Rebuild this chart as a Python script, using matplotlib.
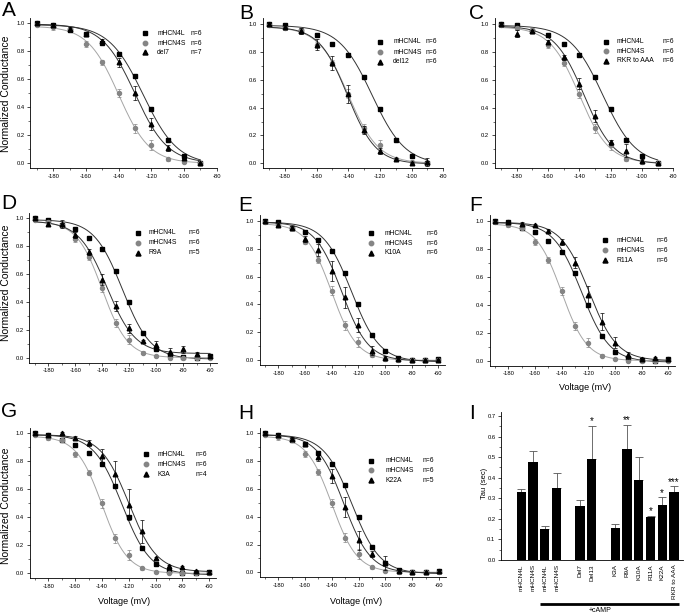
import numpy as np
import matplotlib
matplotlib.use("Agg")
import matplotlib.pyplot as plt
import matplotlib.transforms as mtransforms
from matplotlib.ticker import MultipleLocator, FormatStrFormatter

plt.rcParams['font.family'] = ['Liberation Sans', 'DejaVu Sans']
plt.rcParams['axes.unicode_minus'] = False

W, H = 685, 615

# ---- activation curve data (normalized conductance) ----
volt_short = [-190, -180, -170, -160, -150, -140, -130, -120, -110, -100, -90]
volt_long = [-190, -180, -170, -160, -150, -140, -130, -120, -110, -100, -90, -80, -70, -60]

hcn4l_short = [1.0, 0.99, 0.95, 0.92, 0.86, 0.78, 0.62, 0.39, 0.17, 0.05, 0.0]
hcn4l_short_err = [0.01, 0.01, 0.01, 0.012, 0.01, 0.012, 0.012, 0.01, 0.012, 0.01, 0.005]
hcn4s_short = [0.99, 0.97, 0.96, 0.85, 0.72, 0.50, 0.25, 0.13, 0.03, 0.01, 0.0]
hcn4s_short_err = [0.01, 0.015, 0.01, 0.02, 0.02, 0.03, 0.03, 0.035, 0.01, 0.005, 0.005]

hcn4l_long = [1.0, 0.99, 0.95, 0.92, 0.86, 0.78, 0.625, 0.40, 0.18, 0.065, 0.02, 0.005, 0.0, 0.01]
hcn4l_long_err = [0.01, 0.01, 0.01, 0.012, 0.01, 0.012, 0.012, 0.01, 0.012, 0.01, 0.01, 0.005, 0.005, 0.01]
hcn4s_long = [0.99, 0.97, 0.95, 0.85, 0.72, 0.50, 0.25, 0.13, 0.035, 0.01, 0.0, 0.0, 0.0, 0.0]
hcn4s_long_err = [0.01, 0.015, 0.01, 0.02, 0.02, 0.03, 0.03, 0.035, 0.01, 0.005, 0.005, 0.005, 0.005, 0.005]

del7 = [1.0, 0.99, 0.96, 0.92, 0.87, 0.72, 0.50, 0.28, 0.11, 0.04, 0.0]
del7_err = [0.01, 0.01, 0.01, 0.01, 0.02, 0.03, 0.05, 0.045, 0.02, 0.01, 0.005]
del12 = [1.0, 0.98, 0.95, 0.85, 0.72, 0.50, 0.24, 0.09, 0.03, 0.0, 0.01]
del12_err = [0.01, 0.015, 0.02, 0.04, 0.05, 0.065, 0.03, 0.02, 0.01, 0.01, 0.03]
rkr = [1.0, 0.93, 0.95, 0.87, 0.76, 0.57, 0.34, 0.15, 0.09, 0.02, 0.0]
rkr_err = [0.01, 0.025, 0.01, 0.015, 0.02, 0.04, 0.04, 0.02, 0.045, 0.01, 0.005]
r9a = [1.0, 0.96, 0.96, 0.88, 0.76, 0.56, 0.37, 0.21, 0.12, 0.09, 0.04, 0.06, 0.03, 0.01]
r9a_err = [0.01, 0.015, 0.03, 0.02, 0.02, 0.04, 0.035, 0.03, 0.01, 0.03, 0.03, 0.025, 0.01, 0.01]
k10a = [1.0, 0.97, 0.95, 0.87, 0.79, 0.64, 0.45, 0.25, 0.07, 0.02, 0.01, 0.0, 0.0, 0.005]
k10a_err = [0.01, 0.01, 0.01, 0.02, 0.04, 0.07, 0.075, 0.05, 0.03, 0.01, 0.005, 0.005, 0.005, 0.005]
r11a = [1.0, 0.99, 0.98, 0.97, 0.93, 0.85, 0.70, 0.47, 0.28, 0.13, 0.04, 0.01, 0.02, 0.01]
r11a_err = [0.01, 0.01, 0.01, 0.01, 0.01, 0.02, 0.04, 0.065, 0.06, 0.04, 0.025, 0.01, 0.01, 0.01]
k3a = [1.0, 0.99, 1.0, 0.97, 0.93, 0.84, 0.71, 0.49, 0.30, 0.11, 0.05, 0.045, 0.02, 0.01]
k3a_err = [0.01, 0.01, 0.01, 0.01, 0.02, 0.05, 0.09, 0.11, 0.08, 0.01, 0.01, 0.01, 0.005, 0.005]
k22a = [1.0, 0.99, 0.96, 0.92, 0.83, 0.69, 0.47, 0.23, 0.13, 0.07, 0.01, 0.0, 0.0, 0.01]
k22a_err = [0.01, 0.01, 0.01, 0.01, 0.03, 0.05, 0.07, 0.07, 0.02, 0.05, 0.01, 0.005, 0.005, 0.005]

# Boltzmann fit parameters: (top, bottom, V1/2, slope)
fit_hcn4l = (0.99, -0.01, -125.0, 10.5)
fit_hcn4s = (0.98, 0.0, -140.0, 9.5)
fit_del7 = (0.995, 0.0, -130.0, 10.0)
fit_del12 = (0.98, -0.005, -140.5, 9.0)
fit_rkr = (0.985, -0.005, -137.0, 9.5)
fit_r9a = (0.98, 0.03, -136.5, 10.5)
fit_k10a = (0.99, -0.005, -132.5, 10.0)
fit_r11a = (0.99, 0.0, -119.5, 10.5)
fit_k3a = (0.99, 0.01, -120.0, 10.5)
fit_k22a = (0.99, -0.005, -131.0, 10.0)

# ---- panel I data ----
tau_groups = [4, 2, 6]
tau_labels = ['mHCN4L', 'mHCN4S', 'mHCN4L', 'mHCN4S', 'Del7', 'Del13',
              'K3A', 'R9A', 'K10A', 'R11A', 'K22A', 'RKR to AAA']
tau = [0.332, 0.475, 0.149, 0.349, 0.263, 0.493, 0.155, 0.539, 0.387, 0.208, 0.268, 0.332]
tau_err = [0.015, 0.054, 0.018, 0.072, 0.027, 0.159, 0.02, 0.119, 0.112, 0.007, 0.037, 0.026]
tau_stars = ['', '', '', '', '', '*', '', '**', '', '*', '*', '***']
camp_from = 2


def boltzmann(v, fit):
    top, bottom, vh, k = fit
    return bottom + (top - bottom) / (1 + np.exp((v - vh) / k))


def make_axes(fig, xa, pxa, xb, pxb, ya, pya, yb, pyb, xlim, ylim):
    sx = (pxb - pxa) / (xb - xa)
    sy = (pyb - pya) / (yb - ya)
    left = pxa + (xlim[0] - xa) * sx
    right = pxa + (xlim[1] - xa) * sx
    bottom = pya + (ylim[0] - ya) * sy
    top = pya + (ylim[1] - ya) * sy
    ax = fig.add_axes([left / W, 1 - bottom / H, (right - left) / W, (bottom - top) / H])
    ax.set_xlim(xlim)
    ax.set_ylim(ylim)
    for s in ['top', 'right']:
        ax.spines[s].set_visible(False)
    for s in ['left', 'bottom']:
        ax.spines[s].set_linewidth(0.6)
    ax.tick_params(which='major', direction='out', length=2.2, width=0.5, labelsize=4.2, pad=2)
    ax.tick_params(which='minor', direction='out', length=1.2, width=0.4)
    return ax


def draw_panel(ax, volts, series, errs, fits, names, ns, leg):
    mcol = ['black', '#858585', 'black']
    lcol = ['#333333', '#a5a5a5', '#333333']
    marks = ['s', 'o', '^']
    msz = [2.7, 2.9, 3.3]
    vv = np.linspace(volts[0], volts[-1], 300)
    for i in range(3):
        ax.plot(vv, boltzmann(vv, fits[i]), color=lcol[i], lw=0.7, zorder=2)
    for i in [1, 0, 2]:
        ax.errorbar(volts, series[i], yerr=errs[i], fmt=marks[i], color=mcol[i],
                    ms=msz[i], ecolor=mcol[i], elinewidth=0.5, capsize=1.6,
                    capthick=0.5, zorder=3 + i)
    ax.xaxis.set_major_locator(MultipleLocator(20))
    ax.xaxis.set_minor_locator(MultipleLocator(10))
    ax.yaxis.set_major_locator(MultipleLocator(0.2))
    ax.yaxis.set_minor_locator(MultipleLocator(0.1))
    ax.yaxis.set_major_formatter(FormatStrFormatter('%.1f'))

    mx, tx, nx, rows = leg
    for i in range(3):
        ax.plot([mx], [rows[i]], marks[i], color=mcol[i], ms=msz[i] + 0.3,
                transform=ax.transAxes, clip_on=False)
        ax.text(tx, rows[i], names[i], transform=ax.transAxes, fontsize=4.9,
                va='center', ha='left')
        ax.text(nx, rows[i], f'n={ns[i]}', transform=ax.transAxes, fontsize=4.9,
                va='center', ha='left')


fig = plt.figure(figsize=(W / 100, H / 100), dpi=100)

short_lim = (-194, -80)
long_lim = (-194, -55)
ylim = (-0.035, 1.04)

panels = [
    # letter, x px at -180, x px at end, end value, y px at 0, y px at 1, xlim
    ('A', 53.3, 216.7, -80, 163.3, 23.3, short_lim),
    ('B', 285.0, 443.3, -80, 163.3, 24.0, short_lim),
    ('C', 516.7, 673.3, -80, 163.3, 24.0, short_lim),
    ('D', 48.3, 210.0, -60, 357.7, 218.3, long_lim),
    ('E', 278.3, 438.3, -60, 360.3, 220.7, long_lim),
    ('F', 508.3, 668.3, -60, 360.7, 221.0, long_lim),
    ('G', 48.3, 209.3, -60, 573.3, 433.3, long_lim),
    ('H', 278.3, 439.0, -60, 572.3, 433.3, long_lim),
]

third = {
    'A': (del7, del7_err, fit_del7, 'del7', 7),
    'B': (del12, del12_err, fit_del12, 'del12', 6),
    'C': (rkr, rkr_err, fit_rkr, 'RKR to AAA', 6),
    'D': (r9a, r9a_err, fit_r9a, 'R9A', 5),
    'E': (k10a, k10a_err, fit_k10a, 'K10A', 6),
    'F': (r11a, r11a_err, fit_r11a, 'R11A', 6),
    'G': (k3a, k3a_err, fit_k3a, 'K3A', 4),
    'H': (k22a, k22a_err, fit_k22a, 'K22A', 5),
}

legends = {
    'A': (0.616, 0.68, 0.857, [0.898, 0.831, 0.769]),
    'B': (0.652, 0.722, 0.90, [0.844, 0.774, 0.71]),
    'C': (0.624, 0.684, 0.94, [0.844, 0.78, 0.716]),
    'D': (0.582, 0.635, 0.849, [0.865, 0.798, 0.734]),
    'E': (0.60, 0.672, 0.90, [0.879, 0.813, 0.748]),
    'F': (0.62, 0.687, 0.90, [0.834, 0.768, 0.701]),
    'G': (0.623, 0.686, 0.892, [0.822, 0.756, 0.691]),
    'H': (0.60, 0.677, 0.876, [0.778, 0.714, 0.65]),
}

for letter, px180, pxend, vend, py0, py1, xlim in panels:
    ax = make_axes(fig, -180, px180, vend, pxend, 0, py0, 1, py1, xlim, ylim)
    s, e, f, name, n = third[letter]
    if xlim == short_lim:
        volts = volt_short
        base = [hcn4l_short, hcn4s_short]
        base_err = [hcn4l_short_err, hcn4s_short_err]
    else:
        volts = volt_long
        base = [hcn4l_long, hcn4s_long]
        base_err = [hcn4l_long_err, hcn4s_long_err]
    draw_panel(ax, volts, base + [s], base_err + [e], [fit_hcn4l, fit_hcn4s, f],
               ['mHCN4L', 'mHCN4S', name], [6, 6, n], legends[letter])

# ---- panel I: bar chart ----
pos = []
start = 0
for g in tau_groups:
    pos += list(range(start, start + g))
    start += g + 1
axI = make_axes(fig, 0, 521.3, 13, 674.0, 0, 560.0, 0.7, 416.0, (-1.7, 13.8), (0, 0.72))
axI.bar(pos, tau, width=0.8, color='black', zorder=3)
axI.errorbar(pos, tau, yerr=[np.zeros(len(tau)), tau_err], fmt='none', ecolor='#555555',
             elinewidth=0.6, capsize=2.6, capthick=0.6, zorder=2)
for p, t, e, st in zip(pos, tau, tau_err, tau_stars):
    if st:
        axI.text(p, t + e - 0.002, st, ha='center', va='bottom', fontsize=7)
axI.yaxis.set_major_locator(MultipleLocator(0.1))
axI.yaxis.set_minor_locator(MultipleLocator(0.05))
axI.yaxis.set_major_formatter(FormatStrFormatter('%.1f'))
axI.set_xticks(pos)
axI.set_xticklabels(tau_labels, rotation=90, fontsize=4.6)
axI.tick_params(axis='x', length=0, pad=3)
trans = mtransforms.blended_transform_factory(axI.transData, fig.transFigure)
axI.plot([pos[camp_from] - 0.4, pos[-1] + 0.4], [1 - 603.5 / H] * 2, color='black',
         lw=2.0, transform=trans, clip_on=False, solid_capstyle='butt')
fig.text(600 / W, 1 - 611 / H, '+cAMP', ha='center', va='center', fontsize=5)
fig.text(485 / W, 1 - 483 / H, 'Tau (sec)', rotation=90, ha='center', va='center', fontsize=5.4)

# ---- labels ----
for txt, x, y in [('A', 2, 1), ('B', 239, 4), ('C', 469, 4), ('D', 1, 194), ('E', 238, 196),
                  ('F', 469, 196), ('G', 1, 402), ('H', 238, 404), ('I', 469, 404)]:
    fig.text(x / W, 1 - y / H, txt, ha='left', va='top', fontsize=15)

for y in [94, 283, 506]:
    fig.text(6 / W, 1 - y / H, 'Normalized Conductance', rotation=90, ha='center',
             va='center', fontsize=7.5)
for x, y in [(585, 387), (124, 601.7), (356, 601.7)]:
    fig.text(x / W, 1 - y / H, 'Voltage (mV)', ha='center', va='center', fontsize=6.5)

fig.savefig('out.png', dpi=100)
